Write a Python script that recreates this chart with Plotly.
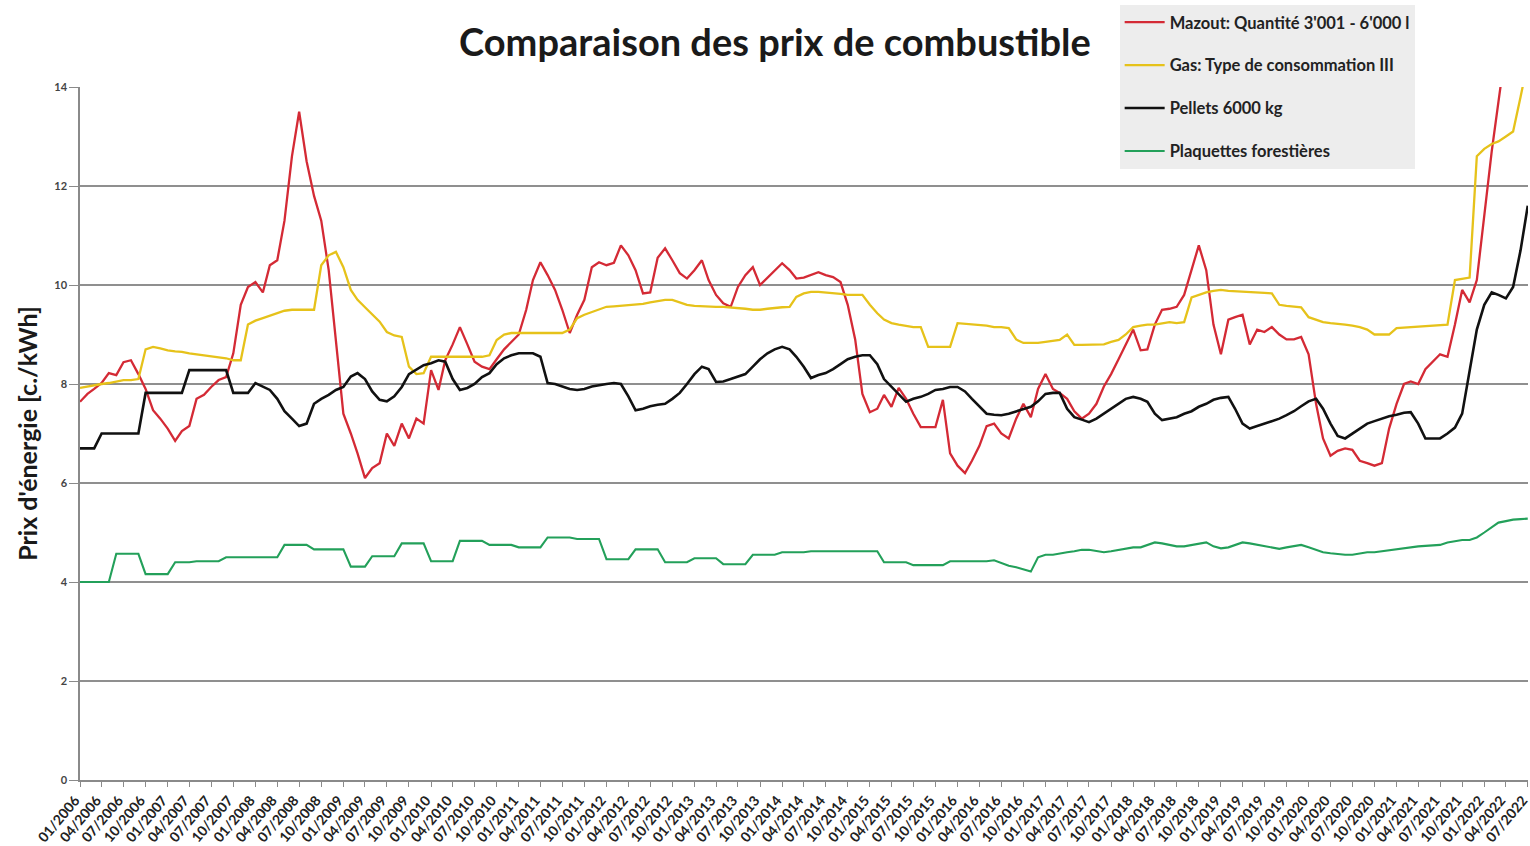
import pandas as pd
import plotly.graph_objects as go

# Monthly values, 01/2006 .. 07/2022 (c./kWh), one row per year
mazout = [
    7.64, 7.8, 7.9, 8.02, 8.22, 8.18, 8.44, 8.48, 8.2, 7.9, 7.47, 7.3,          # 2006
    7.1, 6.85, 7.05, 7.15, 7.7, 7.78, 7.94, 8.08, 8.14, 8.62, 9.6, 9.96,        # 2007
    10.06, 9.85, 10.4, 10.5, 11.3, 12.6, 13.5, 12.5, 11.8, 11.3, 10.3, 8.8,     # 2008
    7.4, 7.0, 6.6, 6.1, 6.3, 6.4, 7.0, 6.75, 7.2, 6.9, 7.3, 7.2,                # 2009
    8.28, 7.88, 8.48, 8.8, 9.15, 8.8, 8.45, 8.35, 8.3, 8.5, 8.7, 8.85,          # 2010
    9.0, 9.5, 10.1, 10.46, 10.2, 9.9, 9.5, 9.03, 9.4, 9.7, 10.36, 10.46,        # 2011
    10.4, 10.45, 10.8, 10.6, 10.3, 9.83, 9.85, 10.55, 10.74, 10.5, 10.24, 10.13,  # 2012
    10.3, 10.5, 10.1, 9.8, 9.63, 9.56, 9.96, 10.2, 10.36, 10.0, 10.15, 10.3,    # 2013
    10.44, 10.3, 10.13, 10.15, 10.2, 10.26, 10.2, 10.16, 10.06, 9.6, 8.9, 7.8,  # 2014
    7.43, 7.5, 7.78, 7.54, 7.92, 7.7, 7.4, 7.13, 7.13, 7.13, 7.68, 6.6,         # 2015
    6.35, 6.2, 6.45, 6.75, 7.15, 7.2, 7.0, 6.9, 7.3, 7.6, 7.33, 7.9,            # 2016
    8.2, 7.9, 7.82, 7.7, 7.45, 7.3, 7.4, 7.6, 7.95, 8.2, 8.5, 8.8,              # 2017
    9.1, 8.68, 8.7, 9.2, 9.5, 9.52, 9.56, 9.8, 10.3, 10.8, 10.3, 9.2,           # 2018
    8.6, 9.3, 9.35, 9.4, 8.8, 9.1, 9.05, 9.15, 9.0, 8.9, 8.9, 8.95,             # 2019
    8.6, 7.6, 6.9, 6.55, 6.65, 6.7, 6.67, 6.45, 6.4, 6.35, 6.4, 7.1,            # 2020
    7.6, 8.0, 8.05, 8.0, 8.3, 8.45, 8.6, 8.55, 9.2, 9.9, 9.65, 10.1,            # 2021
    11.4, 12.7, 13.7, 14.8, 15.5, 16.0, 16.5,                                   # 2022
]

gas = [
    7.92, 7.95, 7.98, 8.0, 8.02, 8.05, 8.08, 8.08, 8.1, 8.7, 8.75, 8.72,
    8.68, 8.66, 8.65, 8.62, 8.6, 8.58, 8.56, 8.55, 8.52, 8.48, 8.48, 9.2,
    9.28, 9.33, 9.38, 9.43, 9.48, 9.5, 9.5, 9.5, 9.5, 10.4, 10.6, 10.67,
    10.36, 9.9, 9.7, 9.55, 9.4, 9.26, 9.05, 8.98, 8.95, 8.35, 8.2, 8.22,
    8.55, 8.55, 8.55, 8.55, 8.55, 8.55, 8.55, 8.55, 8.58, 8.89, 9.0, 9.03,
    9.03, 9.03, 9.03, 9.03, 9.03, 9.03, 9.03, 9.1, 9.33, 9.4, 9.45, 9.5,
    9.56, 9.57, 9.58, 9.6, 9.6, 9.62, 9.65, 9.68, 9.7, 9.7, 9.65, 9.6,
    9.58, 9.57, 9.56, 9.56, 9.56, 9.55, 9.53, 9.52, 9.5, 9.5, 9.52, 9.54,
    9.55, 9.56, 9.76, 9.83, 9.86, 9.86, 9.85, 9.83, 9.82, 9.8, 9.8, 9.8,
    9.6, 9.43, 9.3, 9.23, 9.2, 9.18, 9.15, 9.15, 8.75, 8.75, 8.75, 8.75,
    9.23, 9.22, 9.2, 9.2, 9.18, 9.15, 9.15, 9.13, 8.9, 8.83, 8.83, 8.83,
    8.85, 8.87, 8.89, 9.0, 8.79, 8.79, 8.79, 8.79, 8.8, 8.85, 8.89, 9.0,
    9.15, 9.18, 9.2, 9.2, 9.22, 9.25, 9.23, 9.25, 9.75, 9.8, 9.85, 9.88,
    9.9, 9.88, 9.87, 9.86, 9.85, 9.85, 9.84, 9.83, 9.6, 9.58, 9.56, 9.55,
    9.35, 9.3, 9.25, 9.23, 9.22, 9.2, 9.18, 9.15, 9.1, 9.0, 9.0, 9.0,
    9.13, 9.14, 9.15, 9.15, 9.16, 9.17, 9.18, 9.2, 10.1, 10.12, 10.15, 12.6,
    12.75, 12.85, 12.9, 13.0, 13.1, 13.8, 14.5,
]

pellets = [
    6.7, 6.7, 6.7, 7.0, 7.0, 7.0, 7.0, 7.0, 7.0, 7.82, 7.82, 7.82,
    7.82, 7.82, 7.82, 8.28, 8.28, 8.28, 8.28, 8.28, 8.28, 7.82, 7.82, 7.82,
    8.02, 7.95, 7.88, 7.7, 7.45, 7.3, 7.15, 7.2, 7.6, 7.7, 7.78, 7.88,
    7.94, 8.15, 8.22, 8.1, 7.85, 7.68, 7.65, 7.75, 7.94, 8.2, 8.3, 8.38,
    8.42, 8.48, 8.45, 8.1, 7.88, 7.92, 8.0, 8.14, 8.22, 8.4, 8.52, 8.58,
    8.62, 8.62, 8.62, 8.55, 8.02, 8.0, 7.95, 7.9, 7.88, 7.9, 7.95, 7.98,
    8.0, 8.02, 8.0, 7.75, 7.47, 7.5, 7.55, 7.58, 7.6, 7.7, 7.82, 8.0,
    8.2, 8.35, 8.3, 8.04, 8.05, 8.1, 8.15, 8.2, 8.35, 8.5, 8.62, 8.7,
    8.75, 8.7, 8.55, 8.35, 8.12, 8.18, 8.22, 8.3, 8.4, 8.5, 8.55, 8.58,
    8.58, 8.4, 8.1, 7.94, 7.8, 7.64, 7.7, 7.74, 7.8, 7.88, 7.9, 7.94,
    7.94, 7.85, 7.7, 7.55, 7.4, 7.38, 7.37, 7.4, 7.45, 7.5, 7.54, 7.65,
    7.8, 7.82, 7.82, 7.5, 7.33, 7.28, 7.23, 7.3, 7.4, 7.5, 7.6, 7.7,
    7.74, 7.7, 7.64, 7.4, 7.27, 7.3, 7.33, 7.4, 7.45, 7.54, 7.6, 7.68,
    7.72, 7.74, 7.5, 7.2, 7.1, 7.15, 7.2, 7.25, 7.3, 7.37, 7.45, 7.55,
    7.65, 7.7, 7.5, 7.2, 6.95, 6.9, 7.0, 7.1, 7.2, 7.25, 7.3, 7.35,
    7.38, 7.42, 7.43, 7.2, 6.9, 6.9, 6.9, 7.0, 7.12, 7.4, 8.3, 9.1,
    9.6, 9.85, 9.8, 9.73, 9.96, 10.7, 11.6,
]

plaquettes = [
    4.0, 4.0, 4.0, 4.0, 4.0, 4.57, 4.57, 4.57, 4.57, 4.16, 4.16, 4.16,
    4.16, 4.4, 4.4, 4.4, 4.42, 4.42, 4.42, 4.42, 4.5, 4.5, 4.5, 4.5,
    4.5, 4.5, 4.5, 4.5, 4.75, 4.75, 4.75, 4.75, 4.66, 4.66, 4.66, 4.66,
    4.66, 4.31, 4.31, 4.31, 4.52, 4.52, 4.52, 4.52, 4.78, 4.78, 4.78, 4.78,
    4.42, 4.42, 4.42, 4.42, 4.83, 4.83, 4.83, 4.83, 4.75, 4.75, 4.75, 4.75,
    4.7, 4.7, 4.7, 4.7, 4.9, 4.9, 4.9, 4.9, 4.87, 4.87, 4.87, 4.87,
    4.46, 4.46, 4.46, 4.46, 4.66, 4.66, 4.66, 4.66, 4.4, 4.4, 4.4, 4.4,
    4.48, 4.48, 4.48, 4.48, 4.36, 4.36, 4.36, 4.36, 4.55, 4.55, 4.55, 4.55,
    4.6, 4.6, 4.6, 4.6, 4.62, 4.62, 4.62, 4.62, 4.62, 4.62, 4.62, 4.62,
    4.62, 4.62, 4.4, 4.4, 4.4, 4.4, 4.34, 4.34, 4.34, 4.34, 4.34, 4.42,
    4.42, 4.42, 4.42, 4.42, 4.42, 4.44, 4.38, 4.33, 4.3, 4.25, 4.21, 4.5,
    4.55, 4.55, 4.58, 4.6, 4.62, 4.65, 4.65, 4.62, 4.6, 4.62, 4.65, 4.68,
    4.7, 4.7, 4.74, 4.8, 4.78, 4.75, 4.72, 4.72, 4.75, 4.78, 4.8, 4.72,
    4.68, 4.7, 4.75, 4.8, 4.78, 4.75, 4.72, 4.7, 4.67, 4.7, 4.72, 4.75,
    4.7, 4.65, 4.6, 4.58, 4.56, 4.55, 4.55, 4.57, 4.6, 4.6, 4.62, 4.65,
    4.67, 4.68, 4.7, 4.72, 4.73, 4.74, 4.75, 4.8, 4.82, 4.85, 4.85, 4.9,
    5.0, 5.1, 5.2, 5.23, 5.26, 5.27, 5.28,
]

series_names = [
    "Mazout: Quantité 3'001 - 6'000 l",
    "Gas: Type de consommation III",
    "Pellets 6000 kg",
    "Plaquettes forestières",
]
series_values = [mazout, gas, pellets, plaquettes]
series_colors = ["#d42a35", "#e6c21a", "#111111", "#23a05a"]
series_widths = [2.3, 2.3, 2.6, 2.1]

months = pd.date_range("2006-01-01", periods=199, freq="MS")
tick_dates = months[::3]
tick_labels = [d.strftime("%m/%Y") for d in tick_dates]

fig = go.Figure()
for name, vals, col, w in zip(series_names, series_values, series_colors, series_widths):
    n = min(len(vals), len(months))
    fig.add_trace(go.Scatter(
        x=months[:n], y=vals[:n], mode="lines", name=name,
        line=dict(color=col, width=w), legendgroup=name,
    ))

FONT = "Lato"
fig.update_layout(
    width=1530, height=846,
    margin=dict(l=80, r=2, t=87, b=66, autoexpand=False),
    paper_bgcolor="white", plot_bgcolor="white",
    font=dict(family=FONT, color="#222222"),
    title=dict(
        text="<b>Comparaison des prix de combustible</b>",
        x=0.5065, xanchor="center", y=0.949, yanchor="middle",
        font=dict(family=FONT, size=38, color="#1a1a1a"),
    ),
    showlegend=True,
    legend=dict(
        x=0.718, xanchor="left", y=1.1185, yanchor="top",
        bgcolor="#ededed", borderwidth=0,
        font=dict(family=FONT, size=16.5, color="#222222", weight="bold"),
        tracegroupgap=18.5, traceorder="grouped", itemwidth=40,
        entrywidth=285, entrywidthmode="pixels",
    ),
)
fig.update_xaxes(
    range=[months[0], months[-1] + pd.Timedelta(days=1)],
    tickmode="array", tickvals=tick_dates, ticktext=tick_labels,
    tickangle=-50, tickfont=dict(family=FONT, size=14, color="#222222", weight="bold"),
    ticklabeloverflow="allow", ticklabelshift=-5,
    showgrid=False, showline=True, linecolor="#8a8a8a", linewidth=1.5,
    ticks="outside", ticklen=5, tickcolor="#8a8a8a",
    automargin=False, zeroline=False,
)
fig.update_yaxes(
    range=[0, 14], tick0=0, dtick=2,
    tickfont=dict(family=FONT, size=11, color="#444444", weight="bold"),
    showgrid=True, gridcolor="#8f8f8f", gridwidth=1.5,
    showline=True, linecolor="#8a8a8a", linewidth=1.5,
    ticks="outside", ticklen=9, tickcolor="#8a8a8a",
    title=dict(text="<b>Prix d'énergie [c./kWh]</b>",
               font=dict(family=FONT, size=25, color="#1a1a1a"), standoff=10),
    automargin=False, zeroline=False,
)

fig.write_html(
    "out.html",
    config={"displayModeBar": False},
    post_script="document.body.style.margin='0px';document.body.style.overflow='hidden';",
)
